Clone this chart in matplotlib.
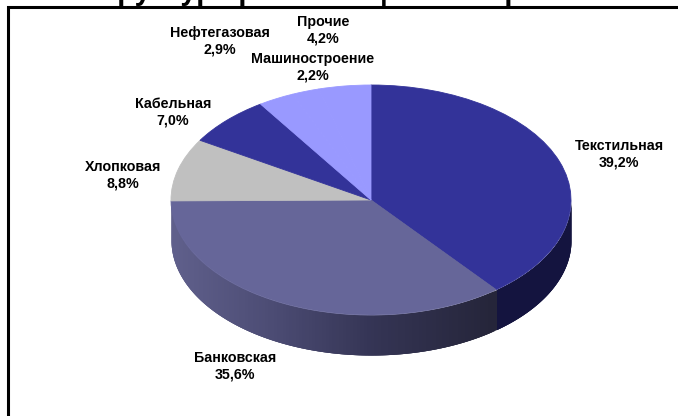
import numpy as np
import matplotlib
matplotlib.use('Agg')
import matplotlib.pyplot as plt

plt.rcParams['font.family'] = ['Liberation Sans', 'DejaVu Sans']

# Values, in drawing order (clockwise from the top)
sectors = ['Текстильная', 'Банковская', 'Хлопковая', 'Кабельная',
           'Нефтегазовая', 'Машиностроение', 'Прочие']
shares = [39.2, 35.6, 8.8, 7.0, 2.9, 2.2, 4.2]
share_labels = ['39,2%', '35,6%', '8,8%', '7,0%', '2,9%', '2,2%', '4,2%']
top_colors = ['#333399', '#666699', '#C0C0C0', '#333399',
              '#9999FF', '#9999FF', '#9999FF']
title = 'Структура рынка акций по отраслям'

# Label centres in pixels
label_x = [619, 235, 123, 173, 220, 313, 323]
label_y = [154, 366, 175, 112, 41, 67, 30]

W, H = 678, 416
# Ellipse box of the pie top, in pixels
left, right, top, bottom = 171, 571, 85, 315
depth = 40

fig = plt.figure(figsize=(W / 100, H / 100), dpi=100)

# Full figure axes in pixel coordinates, for the frame and the texts
bg = fig.add_axes([0, 0, 1, 1])
bg.set_xlim(0, W)
bg.set_ylim(H, 0)
bg.axis('off')
bg.plot([7.5, 7.5, W], [H, 7, 7], color='k', lw=2.2, solid_joinstyle='miter')

# Pie axes: the unit circle gets stretched to the ellipse
ry = (bottom - top) / 2
ax = fig.add_axes([left / W, (H - bottom - depth) / H,
                   (right - left) / W, (bottom - top + depth) / H])
wedges, _ = ax.pie(shares, colors=top_colors, startangle=90, counterclock=False,
                   radius=1, wedgeprops={'linewidth': 0.6, 'zorder': 3})
for w, c in zip(wedges, top_colors):
    w.set_edgecolor(c)
ax.set_aspect('auto')
ax.set_xlim(-1, 1)
ax.set_ylim(-1 - depth / ry, 1)
ax.axis('off')

# Side wall, angle is clockwise from the top
d = depth / ry
textile_end = shares[0] * 3.6


def wall_strip(a0, a1, color):
    a = np.radians(np.linspace(a0, a1, 6))
    x = np.sin(a)
    y = np.cos(a)
    ax.fill_between(x, y - d, y, color=color, lw=0, zorder=1)


# strips overlap the next one so no seams show
for a0 in np.arange(90, textile_end, 1.0):
    wall_strip(a0, min(a0 + 3.0, textile_end), '#14143F')

for a0 in np.arange(textile_end, 270, 1.0):
    x_mid = np.sin(np.radians(a0 + 0.5))
    r = np.interp(x_mid, [-1, -0.5, 0, 0.6], [0x60, 0x4C, 0x35, 0x25])
    g = np.interp(x_mid, [-1, -0.5, 0, 0.6], [0x60, 0x4C, 0x35, 0x25])
    b = np.interp(x_mid, [-1, -0.5, 0, 0.6], [0x8C, 0x74, 0x55, 0x3A])
    wall_strip(a0, min(a0 + 3.0, 270), (r / 255, g / 255, b / 255))

# Texts
for name, val, lx, ly in zip(sectors, share_labels, label_x, label_y):
    bg.text(lx, ly, name + '\n' + val, ha='center', va='center', fontsize=10.3,
            fontweight='bold', color='k', linespacing=1.22)

bg.text(347, 0.5, title, ha='center', va='baseline', fontsize=21,
        fontweight='bold', color='k', clip_on=False)

fig.savefig('out.png', dpi=100)
